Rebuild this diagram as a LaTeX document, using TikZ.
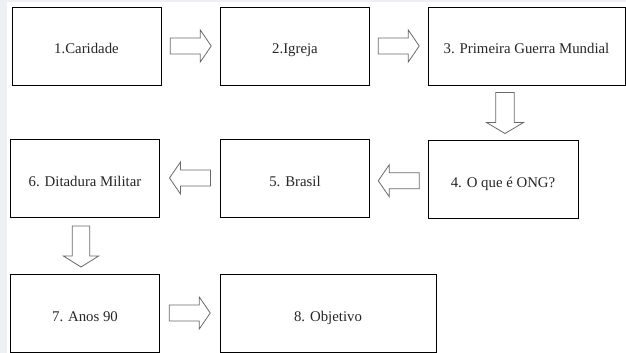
\documentclass[tikz,border=0pt]{standalone}
\usepackage{fontspec}
\setmainfont{Liberation Serif}
\newfontfamily\boxfont{Liberation Serif}
\usetikzlibrary{calc}
\definecolor{edgegray}{HTML}{EEF0F3}
\definecolor{arrowgray}{HTML}{6A6A6A}
\tikzset{
  x=1pt, y=-1pt,
  stepbox/.style={draw=black, line width=0.9pt, fill=white,
    minimum width=#1, minimum height=78pt, inner sep=0pt,
    text height=18pt, text depth=2pt,
    font=\boxfont\fontsize{14.8}{17}\selectfont, text=black!85},
  stepbox/.default=149pt,
  arrowline/.style={draw=arrowgray, line width=0.8pt, fill=white, line join=miter},
  % hollow block arrow pointing to +x, centred on the origin
  blockarrow/.pic={
    \path[arrowline] (-20.5,-8) -- (9.5,-8) -- (9.5,-16) -- (20.5,0)
      -- (9.5,16) -- (9.5,8) -- (-20.5,8) -- cycle;
  }
}
\begin{document}
\begin{tikzpicture}
  \useasboundingbox (0,0) rectangle (626,353);
  \fill[white] (0,0) rectangle (626,353);
  \fill[edgegray] (0,0) rectangle (7,353);
  \fill[edgegray] (0,0) rectangle (626,2);

  % row 1
  \node[stepbox] (b1) at (86.5,46) {1.Caridade};
  \node[stepbox] (b2) at (295,46) {2.Igreja};
  \node[stepbox=197pt] (b3) at (526.5,46) {3. Primeira Guerra Mundial};
  % row 2
  \node[stepbox=150pt] (b4) at (503,179.5) {4. O que é ONG?};
  \node[stepbox] (b5) at (295,178) {5. Brasil};
  \node[stepbox] (b6) at (85,178) {6. Ditadura Militar};
  % row 3
  \node[stepbox] (b7) at (85,313) {7. Anos 90};
  \node[stepbox=216pt] (b8) at (328,313) {8. Objetivo};

  % hollow arrows between the steps
  \pic at ($(b1.east)!0.5!(b2.west)$) {blockarrow};
  \pic at ($(b2.east)!0.5!(b3.west)$) {blockarrow};
  \pic[rotate=-90, yscale=1.15] at ($(b4.north)+(2,-27)$) {blockarrow};
  \pic[rotate=180] at ($(b4.west)!0.5!(b5.east)+(0,2)$) {blockarrow};
  \pic[rotate=180] at ($(b5.west)!0.5!(b6.east)$) {blockarrow};
  \pic[rotate=-90, yscale=1.1] at ($(b6.south)!0.5!(b7.north)+(-4,1)$) {blockarrow};
  \pic at ($(b7.east)!0.5!(b8.west)$) {blockarrow};
\end{tikzpicture}
\end{document}
